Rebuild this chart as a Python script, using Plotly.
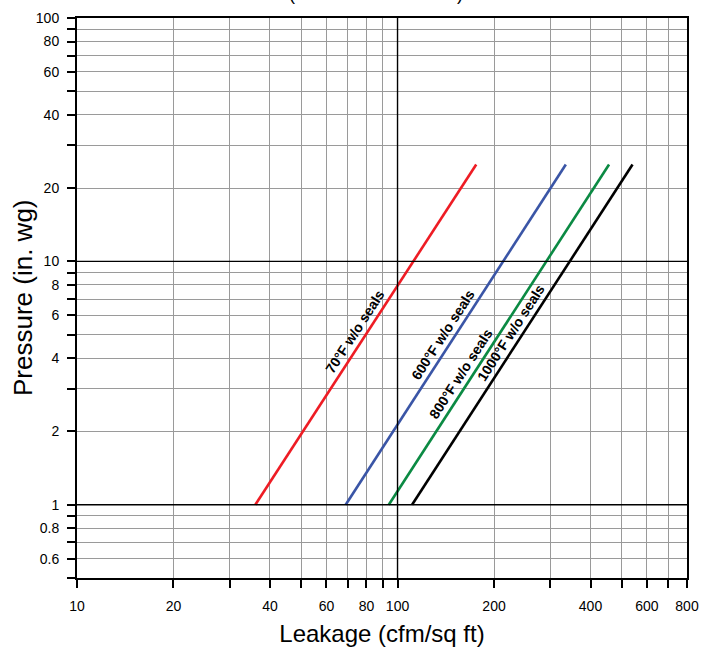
import math
import plotly.graph_objects as go

# ---- data ----
series_names = ["70°F w/o seals", "600°F w/o seals", "800°F w/o seals", "1000°F w/o seals"]
series_colors = ["#ee1c24", "#3a55a6", "#0b8a43", "#000000"]
pressure = [1.0, 25.0]                       # in. wg
leak_70 = [36.0, 176.0]                      # cfm/sq ft
leak_600 = [68.9, 335.0]
leak_800 = [93.9, 457.0]
leak_1000 = [111.0, 541.0]
series_leak = [leak_70, leak_600, leak_800, leak_1000]
label_pressure = [5.13, 4.99, 3.45, 5.09]   # where each line label sits

x_tickvals = [10, 20, 30, 40, 50, 60, 70, 80, 90, 100, 200, 300, 400, 500, 600, 700, 800]
x_ticktext = ["10", "20", "", "40", "", "60", "", "80", "", "100", "200", "", "400", "", "600", "", "800"]
y_tickvals = [0.5, 0.6, 0.7, 0.8, 0.9, 1, 2, 3, 4, 5, 6, 7, 8, 9, 10, 20, 30, 40, 50, 60, 70, 80, 90, 100]
y_ticktext = ["", "0.6", "", "0.8", "", "1", "2", "", "4", "", "6", "", "8", "", "10", "20", "", "40", "", "60", "", "80", "", "100"]
x_major = [100]
y_major = [1, 10]

W, H = 712, 651
ML, MR, MT, MB = 77, 25, 18, 73
x_range = [1, math.log10(800)]
y_range = [math.log10(0.5), 2]
px_per_dec_x = (W - ML - MR) / (x_range[1] - x_range[0])
px_per_dec_y = (H - MT - MB) / (y_range[1] - y_range[0])

FONT = "Liberation Sans, Arial, sans-serif"
TICKFONT = "Liberation Sans Narrow, Arial Narrow, sans-serif"

fig = go.Figure()

# major grid lines in black (data values)
for xv in x_major:
    fig.add_shape(type="line", xref="x", yref="paper", x0=xv, x1=xv, y0=0, y1=1,
                  line=dict(color="#000000", width=1.4), layer="above")
for yv in y_major:
    fig.add_shape(type="line", xref="paper", yref="y", x0=0, x1=1, y0=yv, y1=yv,
                  line=dict(color="#000000", width=1.4), layer="above")

for name, color, lk in zip(series_names, series_colors, series_leak):
    fig.add_trace(go.Scatter(x=lk, y=pressure, mode="lines", name=name,
                             line=dict(color=color, width=2.6), showlegend=False,
                             hoverinfo="skip"))

# line labels placed along each line
for name, lk, lp in zip(series_names, series_leak, label_pressure):
    lx0, lx1 = math.log10(lk[0]), math.log10(lk[1])
    ly0, ly1 = math.log10(pressure[0]), math.log10(pressure[1])
    t = (math.log10(lp) - ly0) / (ly1 - ly0)
    ax_ = lx0 + t * (lx1 - lx0)
    ang = math.degrees(math.atan2((ly1 - ly0) * px_per_dec_y, (lx1 - lx0) * px_per_dec_x))
    fig.add_annotation(x=ax_, y=math.log10(lp), xref="x", yref="y", text=f"<b>{name}</b>",
                       showarrow=False, textangle=-ang, xshift=-13,
                       font=dict(family=FONT, size=14, color="#000000"))

# title at very top (cut by the page edge, as in the reference)
fig.add_annotation(x=0.5, y=1, xref="paper", yref="paper", yanchor="bottom", yshift=12, xshift=-6,
                   text="(Without Blade Seals)", showarrow=False,
                   font=dict(family=FONT, size=18, color="#000000"))

# y-axis title as an annotation for exact placement
fig.add_annotation(x=0, y=0.5, xref="paper", yref="paper", xanchor="center", yanchor="middle",
                   xshift=-(ML - 23), text="Pressure (in. wg)", textangle=-90, showarrow=False,
                   font=dict(family=FONT, size=26, color="#000000"))

axis_common = dict(type="log", showline=True, linecolor="#000000", linewidth=2, mirror=True,
                   ticks="outside", ticklen=8, tickwidth=2, tickcolor="#000000",
                   showgrid=True, gridcolor="#9a9a9a", gridwidth=1, zeroline=False,
                   tickfont=dict(family=TICKFONT, size=14, color="#000000"))

fig.update_xaxes(range=x_range, tickmode="array", tickvals=x_tickvals, ticktext=x_ticktext,
                 title=dict(text="Leakage (cfm/sq ft)", font=dict(family=FONT, size=24, color="#000000"),
                            standoff=12),
                 ticklabelstandoff=6, **axis_common)
fig.update_yaxes(range=y_range, tickmode="array", tickvals=y_tickvals, ticktext=y_ticktext,
                 ticklabelstandoff=5, **axis_common)

fig.update_layout(width=W, height=H, margin=dict(l=ML, r=MR, t=MT, b=MB, autoexpand=False),
                  paper_bgcolor="#ffffff", plot_bgcolor="#ffffff", showlegend=False)

fig.write_html("out.html", config={"displayModeBar": False},
               post_script="document.body.style.margin='0';")
